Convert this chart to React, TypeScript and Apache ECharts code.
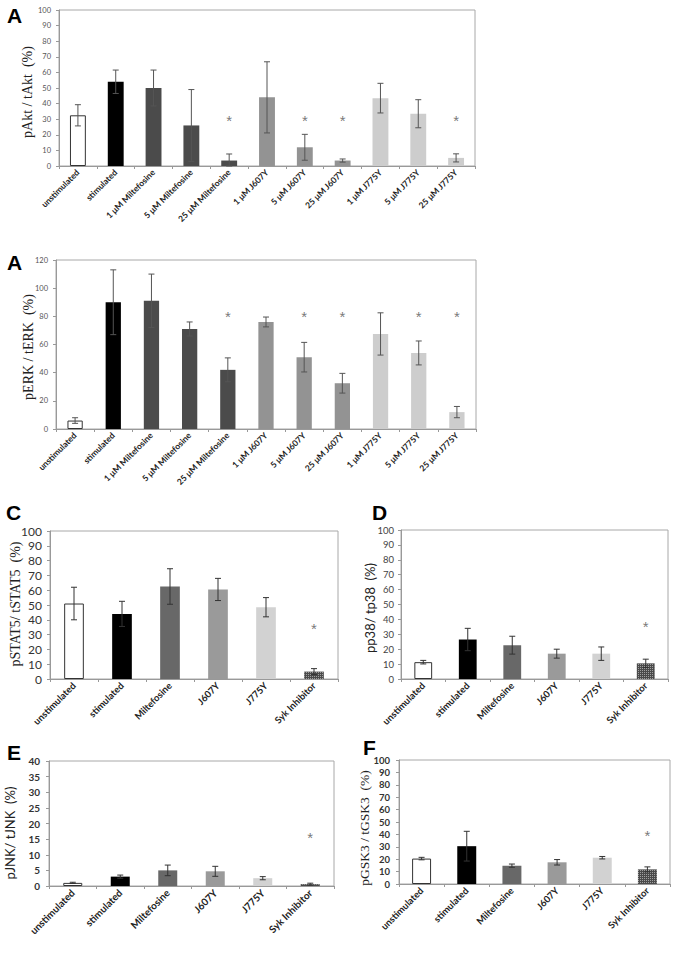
import React, { useEffect, useRef } from "react";
import * as echarts from "echarts";

// ---------- DATA ----------
const doseCategories = [
  "unstimulated", "stimulated", "1 μM Miltefosine", "5 μM Miltefosine", "25 μM Miltefosine",
  "1 μM J607Y", "5 μM J607Y", "25 μM J607Y", "1 μM J775Y", "5 μM J775Y", "25 μM J775Y",
];
const aktValues = [32.5, 54, 50, 26, 3.5, 44, 12, 3.5, 43.5, 33.5, 5.2];
const aktErrors = [6.8, 7.5, 11.5, 23, 4.2, 22.8, 8.3, 1, 9.5, 9, 2.6];
const aktStars = [4, 6, 7, 10];
const aktStarLevel = 29;
const aktTicks = [0, 100, 10];

const erkValues = [6, 90, 91, 71, 42, 76, 51, 32.5, 67.5, 54, 12];
const erkErrors = [2, 23, 19, 5, 8.5, 3.5, 10.5, 7, 15, 8.5, 4];
const erkStars = [4, 6, 7, 9, 10];
const erkStarLevel = 80;
const erkTicks = [0, 120, 20];

const treatmentCategories = ["unstimulated", "stimulated", "Miltefosine", "J607Y", "J775Y", "Syk Inhibitor"];
const stat5Values = [51, 44, 62.5, 60.5, 48.5, 5];
const stat5Errors = [11, 8.5, 12, 7.5, 6.5, 2];
const stat5Stars = [5];
const stat5StarLevel = 34;

const p38Values = [11.3, 26.5, 22.7, 17, 17, 10.5];
const p38Errors = [1.2, 7.5, 6, 3, 4.5, 2.8];
const p38Stars = [5];
const p38StarLevel = 35;

const jnkValues = [1, 3, 5, 4.7, 2.5, 0.6];
const jnkErrors = [0.2, 0.5, 1.7, 1.6, 0.5, 0.3];
const jnkStars = [5];
const jnkStarLevel = 15.4;
const jnkTicks = [0, 40, 5];

const gsk3Values = [20.5, 30.5, 14.8, 17.5, 21.2, 11.8];
const gsk3Errors = [1, 12, 1.3, 2.2, 1, 2];
const gsk3Stars = [5];
const gsk3StarLevel = 39;
const pctTicks = [0, 100, 10];

// ---------- STYLES ----------
const WHITE = { color: "#ffffff", borderColor: "#333333", borderWidth: 1 };
const BLACK = { color: "#000000" };
const syk = {
  color: "#4a4a4a",
  decal: { symbol: "rect", symbolSize: 1, dashArrayX: [1, 1], dashArrayY: [1, 1], color: "#a0a0a0" },
};
const doseStyles = (milt: string, j607: string, j775: string) => [
  WHITE, BLACK, { color: milt }, { color: milt }, { color: milt },
  { color: j607 }, { color: j607 }, { color: j607 },
  { color: j775 }, { color: j775 }, { color: j775 },
];
const treatStyles = [WHITE, BLACK, { color: "#686868" }, { color: "#9a9a9a" }, { color: "#d2d2d2" }, syk];

type Panel = {
  cats: string[]; vals: number[]; errs: number[]; stars: number[]; starLevel: number;
  ticks: number[]; styles: any[];
  grid: { left: number; top: number; width: number; height: number };
  barWidth: string; yFont: number; yBold: boolean; yColor: string; yMargin: number; xFont: number;
  letter: string; letterPos: number[]; title: string; titlePos: number[]; titleFont: string; titleSize: number;
  errColor: string; starSize: number;
};

const panels: Panel[] = [
  {
    cats: doseCategories, vals: aktValues, errs: aktErrors, stars: aktStars, starLevel: aktStarLevel,
    ticks: aktTicks, styles: doseStyles("#4b4b4b", "#939393", "#cdcdcd"),
    grid: { left: 59, top: 10, width: 416, height: 156 }, barWidth: "42%",
    yFont: 7.5, yBold: false, yColor: "#555", yMargin: 8, xFont: 8.5,
    letter: "A", letterPos: [7, 15], title: "pAkt / tAkt  (%)", titlePos: [27, 92],
    titleFont: "Liberation Serif", titleSize: 14, errColor: "#555", starSize: 15,
  },
  {
    cats: doseCategories, vals: erkValues, errs: erkErrors, stars: erkStars, starLevel: erkStarLevel,
    ticks: erkTicks, styles: doseStyles("#4b4b4b", "#939393", "#cdcdcd"),
    grid: { left: 56, top: 260, width: 420, height: 169 }, barWidth: "40%",
    yFont: 7.5, yBold: false, yColor: "#555", yMargin: 8, xFont: 8.5,
    letter: "A", letterPos: [7, 262], title: "pERK / tERK  (%)", titlePos: [28, 347],
    titleFont: "Liberation Serif", titleSize: 14, errColor: "#555", starSize: 15,
  },
  {
    cats: treatmentCategories, vals: stat5Values, errs: stat5Errors, stars: stat5Stars, starLevel: stat5StarLevel,
    ticks: pctTicks, styles: treatStyles,
    grid: { left: 50, top: 531, width: 288, height: 148 }, barWidth: "41%",
    yFont: 12, yBold: false, yColor: "#333", yMargin: 8, xFont: 9.5,
    letter: "C", letterPos: [6, 512], title: "pSTAT5/ tSTAT5  (%)", titlePos: [15, 604],
    titleFont: "Liberation Serif", titleSize: 14, errColor: "#333", starSize: 15,
  },
  {
    cats: treatmentCategories, vals: p38Values, errs: p38Errors, stars: p38Stars, starLevel: p38StarLevel,
    ticks: pctTicks, styles: treatStyles,
    grid: { left: 401, top: 530, width: 267, height: 149 }, barWidth: "40%",
    yFont: 9.5, yBold: false, yColor: "#444", yMargin: 7, xFont: 9.5,
    letter: "D", letterPos: [372, 512], title: "pp38/ tp38  (%)", titlePos: [370, 608],
    titleFont: "Lato", titleSize: 13, errColor: "#333", starSize: 15,
  },
  {
    cats: treatmentCategories, vals: jnkValues, errs: jnkErrors, stars: jnkStars, starLevel: jnkStarLevel,
    ticks: jnkTicks, styles: treatStyles,
    grid: { left: 49, top: 761, width: 285, height: 125 }, barWidth: "40%",
    yFont: 10, yBold: true, yColor: "#333", yMargin: 9, xFont: 10,
    letter: "E", letterPos: [7, 752], title: "pJNK/ tJNK  (%)", titlePos: [10, 833],
    titleFont: "Lato", titleSize: 13, errColor: "#333", starSize: 15,
  },
  {
    cats: treatmentCategories, vals: gsk3Values, errs: gsk3Errors, stars: gsk3Stars, starLevel: gsk3StarLevel,
    ticks: pctTicks, styles: treatStyles,
    grid: { left: 399, top: 760, width: 271, height: 124 }, barWidth: "42%",
    yFont: 9.5, yBold: true, yColor: "#333", yMargin: 9, xFont: 9.5,
    letter: "F", letterPos: [363, 747], title: "pGSK3 / tGSK3  (%)", titlePos: [364, 828],
    titleFont: "Liberation Serif", titleSize: 13.5, errColor: "#333", starSize: 15,
  },
];

function buildOption() {
  const grid: any[] = [];
  const xAxis: any[] = [];
  const yAxis: any[] = [];
  const series: any[] = [];
  const graphic: any[] = [];

  panels.forEach((p, i) => {
    grid.push({ ...p.grid, show: true, borderColor: "#a8a8a8", borderWidth: 1, containLabel: false });
    xAxis.push({
      type: "category", gridIndex: i, data: p.cats,
      axisLine: { lineStyle: { color: "#999" } },
      axisTick: { show: true, length: 3, lineStyle: { color: "#999" } },
      axisLabel: {
        interval: 0, rotate: 45, margin: 5, fontSize: p.xFont, fontWeight: "bold",
        color: "#222", fontFamily: "Lato",
      },
    });
    yAxis.push({
      type: "value", gridIndex: i, min: p.ticks[0], max: p.ticks[1], interval: p.ticks[2],
      axisLine: { show: true, lineStyle: { color: "#999" } },
      axisTick: { show: true, length: 3, lineStyle: { color: "#999" } },
      splitLine: { show: false },
      axisLabel: {
        fontSize: p.yFont, fontWeight: p.yBold ? "bold" : "normal", color: p.yColor,
        fontFamily: "Lato", margin: p.yMargin,
      },
    });
    series.push({
      type: "bar", xAxisIndex: i, yAxisIndex: i, barWidth: p.barWidth,
      data: p.vals.map((v, k) => ({ value: v, itemStyle: p.styles[k] })),
    });
    const errColor = p.errColor;
    series.push({
      type: "custom", xAxisIndex: i, yAxisIndex: i, z: 5,
      data: p.vals.map((v, k) => [k, v, p.errs[k]]),
      encode: { x: 0, y: 1 },
      renderItem: (params: any, api: any) => {
        const k = api.value(0);
        const v = api.value(1);
        const e = api.value(2);
        const top = api.coord([k, v + e]);
        const bot = api.coord([k, Math.max(v - e, 0)]);
        const w = 3;
        const style = { stroke: errColor, lineWidth: 1 };
        return {
          type: "group",
          children: [
            { type: "line", shape: { x1: top[0], y1: top[1], x2: bot[0], y2: bot[1] }, style },
            { type: "line", shape: { x1: top[0] - w, y1: top[1], x2: top[0] + w, y2: top[1] }, style },
            { type: "line", shape: { x1: bot[0] - w, y1: bot[1], x2: bot[0] + w, y2: bot[1] }, style },
          ],
        };
      },
    });
    series.push({
      type: "scatter", xAxisIndex: i, yAxisIndex: i, symbolSize: 1,
      itemStyle: { color: "rgba(0,0,0,0)" },
      data: p.stars.map((k) => [k, p.starLevel]),
      label: {
        show: true, position: "inside", formatter: "*", fontSize: p.starSize,
        color: "#555", fontFamily: "Liberation Sans",
      },
    });
    graphic.push({
      type: "text", x: p.letterPos[0], y: p.letterPos[1],
      style: {
        text: p.letter, font: "bold 21px 'Liberation Sans'", fill: "#000",
        textAlign: "left", textVerticalAlign: "middle",
      },
    });
    graphic.push({
      type: "text", x: p.titlePos[0], y: p.titlePos[1], rotation: Math.PI / 2,
      style: {
        text: p.title, font: `${p.titleSize}px '${p.titleFont}'`, fill: "#222",
        textAlign: "center", textVerticalAlign: "middle",
      },
    });
  });

  return { animation: false, backgroundColor: "#ffffff", grid, xAxis, yAxis, series, graphic };
}

export default function App() {
  const ref = useRef<HTMLDivElement>(null);
  useEffect(() => {
    if (!ref.current) return;
    const chart = echarts.init(ref.current, undefined, { renderer: "svg" });
    chart.setOption(buildOption() as any);
    return () => chart.dispose();
  }, []);
  return (
    <div
      ref={ref}
      style={{ position: "absolute", left: 0, top: 0, width: 677, height: 954, background: "#fff" }}
    />
  );
}
